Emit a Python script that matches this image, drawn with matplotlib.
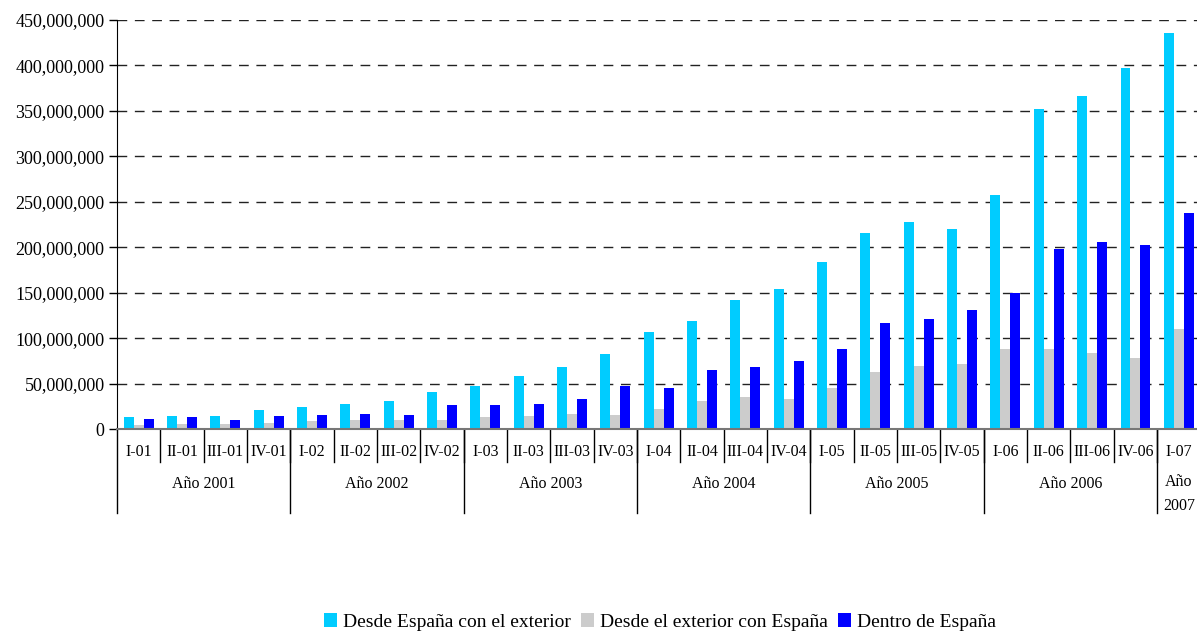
import matplotlib.pyplot as plt
import numpy as np
from matplotlib.patches import Patch
from matplotlib.ticker import FuncFormatter
import matplotlib.transforms as mtransforms

plt.rcParams['font.family'] = ['Liberation Serif', 'DejaVu Serif']

quarters = ['I-01', 'II-01', 'III-01', 'IV-01',
            'I-02', 'II-02', 'III-02', 'IV-02',
            'I-03', 'II-03', 'III-03', 'IV-03',
            'I-04', 'II-04', 'III-04', 'IV-04',
            'I-05', 'II-05', 'III-05', 'IV-05',
            'I-06', 'II-06', 'III-06', 'IV-06',
            'I-07']
years = ['Año 2001', 'Año 2002', 'Año 2003', 'Año 2004', 'Año 2005', 'Año 2006', 'Año\n2007']
quarters_per_year = [4, 4, 4, 4, 4, 4, 1]

# millions of minutes
desde_espana = [13.2, 14.3, 14.3, 20.9,
                24.2, 27.5, 30.8, 40.7,
                47.3, 58.5, 68.5, 82.5,
                106.7, 118.8, 141.9, 154.0,
                183.7, 215.6, 227.7, 220.0,
                257.0, 352.0, 366.4, 397.0,
                435.7]
desde_exterior = [4.4, 5.5, 5.5, 6.6,
                  8.8, 9.9, 9.9, 9.9,
                  13.2, 14.8, 16.5, 15.4,
                  22.0, 30.8, 35.2, 33.0,
                  45.1, 62.7, 69.3, 71.5,
                  88.0, 88.0, 83.6, 78.1,
                  110.0]
dentro_espana = [11.0, 13.2, 9.9, 14.3,
                 15.4, 16.5, 15.4, 26.4,
                 26.4, 27.5, 33.0, 47.3,
                 45.1, 64.9, 68.2, 74.8,
                 88.0, 116.6, 121.0, 130.9,
                 149.6, 198.0, 205.7, 202.4,
                 237.6]
series_names = ['Desde España con el exterior', 'Desde el exterior con España', 'Dentro de España']
colors = ['#00CCFF', '#CCCCCC', '#0000FF']

W, H = 1197, 631
fig = plt.figure(figsize=(W / 100, H / 100), dpi=100)
ax = fig.add_axes([117 / W, 202 / H, (W - 117) / W, 409 / H])

x = np.arange(len(quarters))
bw = 0.23
for i, (vals, c) in enumerate(zip([desde_espana, desde_exterior, dentro_espana], colors)):
    ax.bar(x + (i - 1) * bw, np.array(vals) * 1e6, width=bw, color=c, zorder=2)

ax.set_xlim(-0.5, 24.42)
ax.set_ylim(0, 450e6)
ax.set_yticks(np.arange(0, 450e6 + 1, 50e6))
ax.yaxis.set_major_formatter(FuncFormatter(lambda v, p: f'{int(v):,}'))
ax.tick_params(axis='y', length=6, width=1, labelsize=13, pad=3, color='black')
ax.set_xticks([])
ax.yaxis.grid(True, linestyle=(0, (7, 5.5)), color='#222222', lw=1, zorder=1)
for s in ['top', 'right']:
    ax.spines[s].set_visible(False)
ax.spines['bottom'].set_color('#777777')
ax.spines['bottom'].set_linewidth(1.5)
ax.spines['bottom'].set_zorder(3)
ax.spines['left'].set_color('black')
ax.spines['left'].set_bounds(0, 450e6)

trans = mtransforms.blended_transform_factory(ax.transData, ax.transAxes)
q_lo = -33 / 409
y_lo = -84 / 409

# left spine extension
ax.plot([-0.5, -0.5], [0, y_lo], transform=trans, color='black', lw=1, clip_on=False)

for i, q in enumerate(quarters):
    ax.text(i, -23 / 409, q, transform=trans, ha='center', va='center', fontsize=11.5)
    if i > 0:
        ax.plot([i - 0.5, i - 0.5], [0, q_lo], transform=trans, color='black', lw=1, clip_on=False)

start = 0
for y, n in zip(years, quarters_per_year):
    center = start + (n - 1) / 2
    if '\n' in y:
        ax.text(center, -65 / 409, y, transform=trans, ha='center', va='center',
                fontsize=11.5, linespacing=1.6)
    else:
        ax.text(center, -55 / 409, y, transform=trans, ha='center', va='center', fontsize=11.5)
    if start > 0:
        ax.plot([start - 0.5, start - 0.5], [0, y_lo], transform=trans, color='black',
                lw=1, clip_on=False)
    start += n

handles = [Patch(facecolor=c, edgecolor='none') for c in colors]
fig.legend(handles, series_names, loc='center', bbox_to_anchor=(660 / W, 1 - 622 / H),
           ncol=3, frameon=False, fontsize=14, handlelength=0.7, handleheight=0.7,
           handletextpad=0.3, columnspacing=0.5, borderpad=0)

fig.savefig('out.png', dpi=100)
